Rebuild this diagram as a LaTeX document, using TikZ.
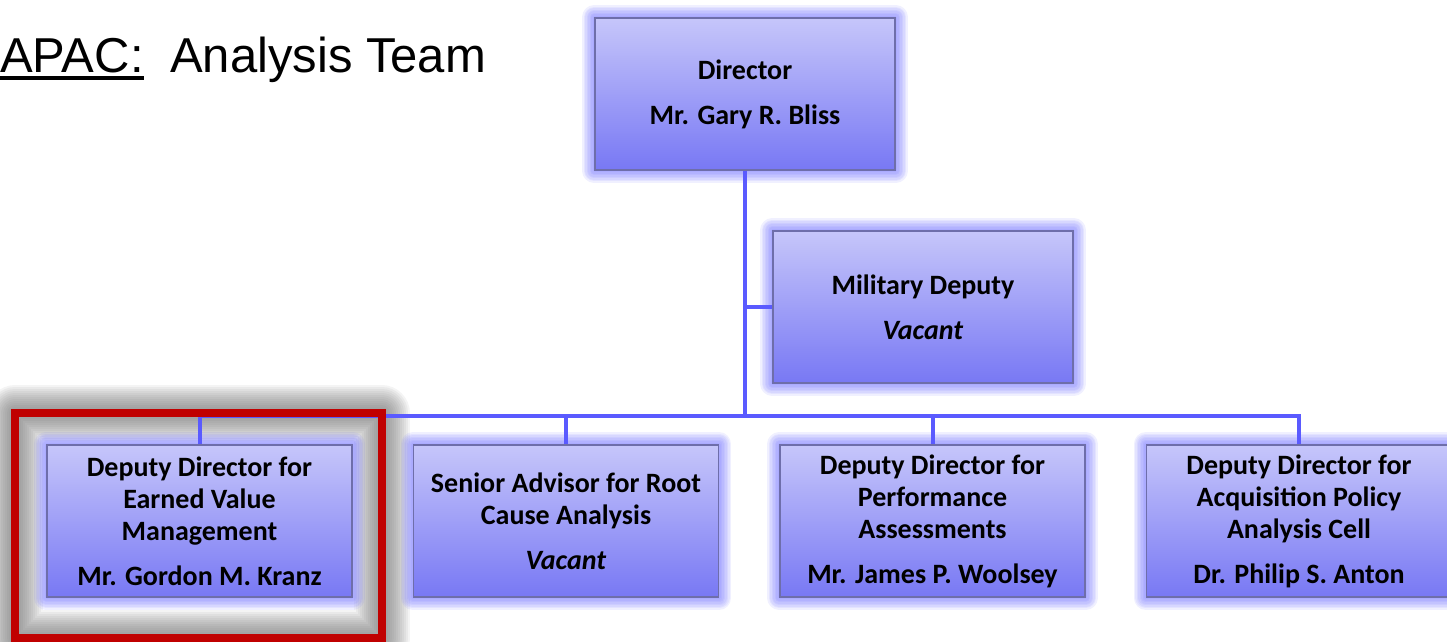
\documentclass[tikz,border=0pt]{standalone}
\usepackage{fontspec}
\setmainfont{Carlito}
\newfontfamily\headfont{Liberation Sans}
\usetikzlibrary{positioning,backgrounds}
\definecolor{unittop}{RGB}{198,198,250}
\definecolor{unitbot}{RGB}{120,120,244}
\definecolor{unitedge}{RGB}{110,110,170}
\definecolor{glowblue}{RGB}{110,110,255}
\definecolor{linkblue}{RGB}{90,90,255}
\definecolor{hlred}{RGB}{192,0,0}

\begin{document}
\begin{tikzpicture}[x=1pt,y=-1pt
    ,unit/.style={rectangle, draw=unitedge, line width=1.5pt
        ,top color=unittop, bottom color=unitbot
        ,minimum width=305pt, minimum height=152pt, inner sep=0pt, align=center
        ,font=\fontsize{28}{32}\selectfont\bfseries}
    ,glow/.style={draw=glowblue, line width=#1, draw opacity=.1, line join=round}
    ,link/.style={draw=linkblue, line width=4pt}
    ,hl/.style={draw=hlred, line width=8pt}
    ,hlglow/.style={draw=black!60, line width=#1, draw opacity=.075, line join=round}
    ,head/.style={font=\headfont\fontsize{49}{58}\selectfont, inner sep=0pt, anchor=base west}
    ,node distance=60pt
  ]
  \useasboundingbox (0,0) rectangle (1447,641);

  % title
  \node [head] (apac) at (0,72) {APAC:};
  \node [head] (team) at (170,72) {Analysis Team};
  \draw [line width=4pt] ([yshift=-6pt]apac.base west) -- ([yshift=-6pt]apac.base east);

  % boxes
  \node [unit, minimum width=300pt] (dir) at (745,94) {Director\\[13pt]Mr. Gary R. Bliss};
  \node [unit, minimum width=300pt] (mil) at (923,307) {Military Deputy\\[13pt]\textit{Vacant}};
  \node [unit] (evm) at (199.5,521) {Deputy Director for\\Earned Value\\Management\\[13pt]Mr. Gordon M. Kranz};
  \node [unit, right=of evm] (rca) {Senior Advisor for Root\\Cause Analysis\\[13pt]\textit{Vacant}};
  \node [unit, right=of rca] (pa) {Deputy Director for\\Performance\\Assessments\\[13pt]Mr. James P. Woolsey};
  \node [unit, right=of pa] (apc) {Deputy Director for\\Acquisition Policy\\Analysis Cell\\[13pt]Dr. Philip S. Anton};

  % links
  \coordinate (bus) at (745,416);
  \draw [link] (dir.south) -- (dir.south |- bus);
  \draw [link] (dir.south |- mil.west) -- (mil.west);
  \draw [link] (evm.north) -- (evm.north |- bus) -- (apc.north |- bus) -- (apc.north);
  \foreach \n in {rca,pa}
    \draw [link] (\n.north |- bus) -- (\n.north);

  % highlight
  \coordinate (hlA) at ([shift={(-31pt,31pt)}]evm.north west);
  \coordinate (hlB) at ([shift={(29pt,-40pt)}]evm.south east);
  \begin{scope}[on background layer]
    \foreach \w in {4,8,...,56}
      \draw [hlglow=\w pt] (hlA) rectangle (hlB);
    \foreach \n in {dir,mil,evm,rca,pa,apc}
      \foreach \w in {3,6,...,24}
        \draw [glow=\w pt] (\n.north west) rectangle (\n.south east);
  \end{scope}
  \draw [hl] (hlA) rectangle (hlB);
\end{tikzpicture}
\end{document}
